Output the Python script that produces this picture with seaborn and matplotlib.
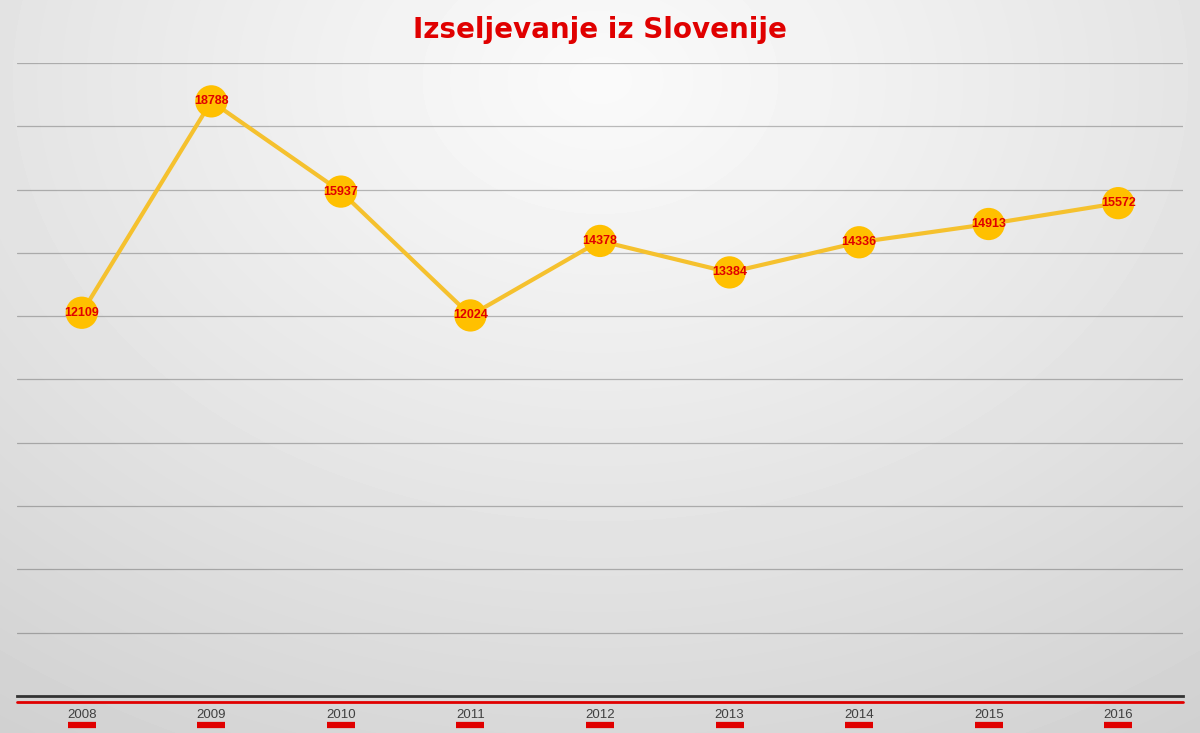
import numpy as np
import pandas as pd
import seaborn as sns
import matplotlib.pyplot as plt
from matplotlib import transforms


# data

years = ['2008', '2009', '2010', '2011', '2012', '2013', '2014', '2015', '2016']
emigrants = [12109, 18788, 15937, 12024, 14378, 13384, 14336, 14913, 15572]

df = pd.DataFrame({'year': years, 'emigrants': emigrants})
df['pos'] = np.arange(len(df))


# figure with radial grey background

sns.set_style('white')
plt.rcParams['font.family'] = ['DejaVu Sans']

fig = plt.figure(figsize=(12, 7.33), dpi=100)

bg = fig.add_axes([0, 0, 1, 1], zorder=0)
yy, xx = np.mgrid[0:733, 0:1200]
r = np.sqrt(((xx - 600) / 800.0) ** 2 + ((yy - 80) / 600.0) ** 2)
shade = np.clip(0.98 - 0.12 * r ** 1.1, 0.78, 1.0)
bg.imshow(shade, cmap='gray', vmin=0, vmax=1, aspect='auto', interpolation='bilinear')
bg.axis('off')

ax = fig.add_axes([17 / 1200, 1 - 696 / 733, 1166 / 1200, 633 / 733], zorder=1)
ax.patch.set_alpha(0)


# line + markers

sns.lineplot(data=df, x='pos', y='emigrants', ax=ax, color='#F5C12E',
             linewidth=3, zorder=3)
sns.scatterplot(data=df, x='pos', y='emigrants', ax=ax, color='#FFC000',
                s=540, edgecolor='none', zorder=4)

label_font = ['Liberation Sans Narrow', 'Liberation Sans', 'DejaVu Sans']
for x, y in zip(df['pos'], df['emigrants']):
    ax.text(x, y, str(y), ha='center', va='center', color='#E00000',
            fontsize=9, fontweight='bold', family=label_font, zorder=5)


# axes

ax.set_xlim(-0.5, len(years) - 0.5)
ax.set_ylim(0, 20000)
ax.set_yticks(np.arange(2000, 20001, 2000))
ax.yaxis.grid(True, color='#000000', alpha=0.25, linewidth=0.9)
ax.set_yticklabels([])
ax.tick_params(axis='y', length=0)

ax.set_xticks(df['pos'])
ax.set_xticklabels(years, color='#404040', fontsize=9.5, family=label_font)
ax.tick_params(axis='x', length=0, pad=9)
ax.set_xlabel('')
ax.set_ylabel('')

for side in ['top', 'left', 'right']:
    ax.spines[side].set_visible(False)
ax.spines['bottom'].set_color('#333333')
ax.spines['bottom'].set_linewidth(2)

# red line under the axis
trans = transforms.blended_transform_factory(ax.transAxes, ax.transAxes)
off = transforms.offset_copy(trans, fig=fig, x=0, y=-6, units='dots')
ax.plot([0, 1], [0, 0], color='#E00000', linewidth=2, transform=off, clip_on=False)

# red bars under the year labels
bar_trans = transforms.blended_transform_factory(ax.transData, ax.transAxes)
bar_off = transforms.offset_copy(bar_trans, fig=fig, x=0, y=-29, units='dots')
ax.plot(df['pos'], [0] * len(df), linestyle='none', marker='_', markersize=20,
        markeredgewidth=4.5, color='#E00000', transform=bar_off, clip_on=False)

fig.text(0.5, 1 - 30 / 733, 'Izseljevanje iz Slovenije', ha='center', va='center',
         color='#E00000', fontsize=20, fontweight='bold')

fig.savefig('out.png', dpi=100)
